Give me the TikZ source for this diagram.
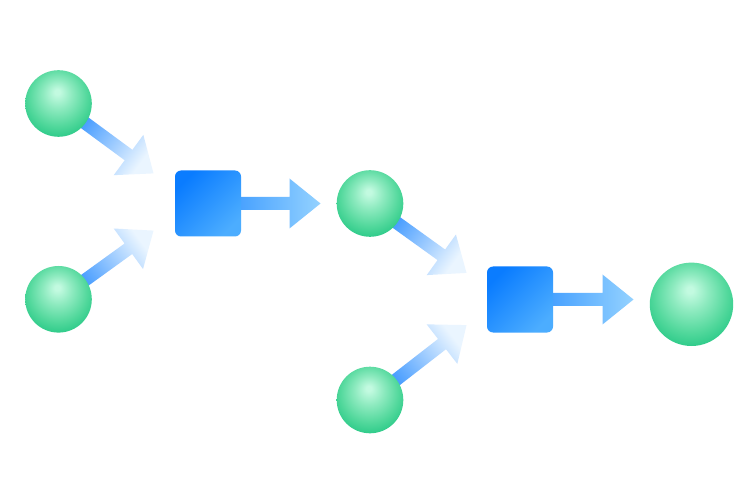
\documentclass[tikz,border=0pt]{standalone}
\usetikzlibrary{calc,backgrounds}
\definecolor{gz}{HTML}{C2FAE0}
\definecolor{gm}{HTML}{8DEABF}
\definecolor{go}{HTML}{52D89C}
\definecolor{gt}{HTML}{16C27D}
\definecolor{sqA}{HTML}{0A7CFF}
\definecolor{sqB}{HTML}{4CADFF}
\definecolor{daA}{HTML}{1A84FF}
\definecolor{daB}{HTML}{EAF5FF}
\definecolor{haA}{HTML}{2B8FFF}
\definecolor{haB}{HTML}{94D2FF}
\pgfdeclareradialshading{gball}{\pgfpoint{-1bp}{9bp}}{color(0bp)=(gz); color(2bp)=(gz); color(11bp)=(gm); color(22bp)=(go); color(34bp)=(gt); color(50bp)=(gt)}
\tikzset{
  sphere/.style={circle, inner sep=0pt, minimum size=66.6pt, shade, shading=gball},
  bigsphere/.style={sphere, minimum size=83.4pt},
  procbox/.style={rectangle, rounded corners=6pt, inner sep=0pt, minimum size=66pt,
    left color=sqA, right color=sqB, shading angle=45},
}
\newcommand\fatarrow[5]{%
  \shade[left color=#3, right color=#4, shading angle=#5]
    let \p0=($(#2)!31pt!(#1)$) in
    ($(#1)!6.5pt!90:(#2)$) -- ($(\p0)!6.5pt!90:(#2)$) -- ($(\p0)!25pt!90:(#2)$) -- (#2)
    -- ($(\p0)!25pt!-90:(#2)$) -- ($(\p0)!6.5pt!-90:(#2)$) -- ($(#1)!6.5pt!-90:(#2)$) -- cycle;}
\begin{document}
\begin{tikzpicture}[x=1pt,y=1pt]
\useasboundingbox (0,0) rectangle (742,496);
% nodes
\node[sphere] (s1) at (58.5,392.5) {};
\node[sphere] (s2) at (58.5,196.7) {};
\node[procbox] (q1) at (208,292.5) {};
\node[sphere] (s3) at (370,292.5) {};
\node[sphere] (s4) at (370,96) {};
\node[procbox] (q2) at (520,196.5) {};
\node[bigsphere] (s5) at (691.5,191.7) {};
% arrow tips
\coordinate (t1) at (153.5,322.6);
\coordinate (t2) at (153.5,265.4);
\coordinate (t3) at (466.5,223.1);
\coordinate (t4) at (466.5,170.9);
\coordinate (t5) at (320.5,292.5);
\coordinate (t6) at (633.5,196.5);
\begin{pgfonlayer}{background}
\fill[white] (0,0) rectangle (742,496);
\fatarrow{s1.center}{t1}{daA}{daB}{53.7}
\fatarrow{s2.center}{t2}{daA}{daB}{126.3}
\fatarrow{s3.center}{t3}{daA}{daB}{54.3}
\fatarrow{s4.center}{t4}{daA}{daB}{127.8}
\fatarrow{q1.center}{t5}{haA}{haB}{90}
\fatarrow{q2.center}{t6}{haA}{haB}{90}
\end{pgfonlayer}
\end{tikzpicture}
\end{document}
